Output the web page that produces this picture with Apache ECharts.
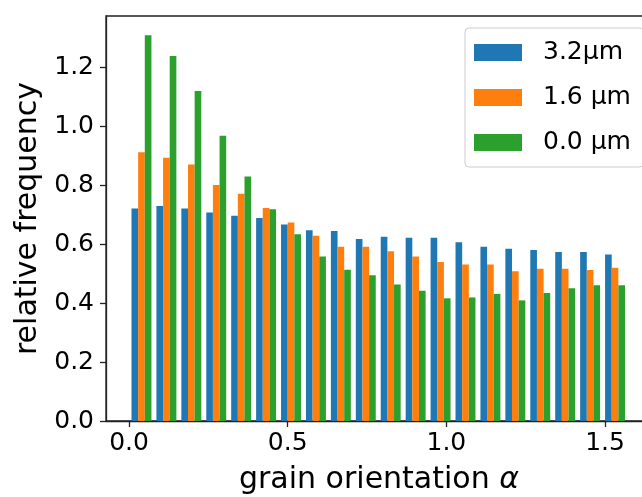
<!DOCTYPE html>
<html>
<head>
<meta charset="utf-8">
<script src="https://cdn.jsdelivr.net/npm/echarts@6/dist/echarts.min.js"></script>
<style>
html,body{margin:0;padding:0;background:#fff;}
#chart{width:642px;height:497px;}
</style>
</head>
<body>
<div id="chart"></div>
<script>
// ---- data ----
const seriesNames = ['3.2μm', '1.6 μm', '0.0 μm'];
const seriesColors = ['#1f77b4', '#ff7f0e', '#2ca02c'];
const binCount = 20;
const binMax = Math.PI / 2;
const values32 = [0.721, 0.729, 0.721, 0.707, 0.696, 0.688, 0.666, 0.647, 0.644, 0.617,
                  0.625, 0.621, 0.621, 0.606, 0.591, 0.584, 0.580, 0.573, 0.573, 0.565];
const values16 = [0.911, 0.893, 0.870, 0.800, 0.771, 0.722, 0.673, 0.628, 0.591, 0.591,
                  0.576, 0.558, 0.539, 0.531, 0.531, 0.508, 0.516, 0.516, 0.512, 0.520];
const values00 = [1.308, 1.238, 1.119, 0.967, 0.829, 0.718, 0.633, 0.558, 0.513, 0.494,
                  0.463, 0.442, 0.416, 0.419, 0.431, 0.409, 0.434, 0.450, 0.460, 0.460];
const xTicks = [0, 0.5, 1.0, 1.5];
const yTicks = [0, 0.2, 0.4, 0.6, 0.8, 1.0, 1.2];

const allValues = [values32, values16, values00];
const binWidth = binMax / binCount;
const nSeries = allValues.length;

const chart = echarts.init(document.getElementById('chart'), null, {renderer: 'canvas'});

function makeSeries(k) {
  const data = allValues[k].map((v, i) => [i * binWidth, (i + 1) * binWidth, v]);
  return {
    type: 'custom',
    name: seriesNames[k],
    data: data,
    encode: {x: [0, 1], y: 2},
    itemStyle: {color: seriesColors[k]},
    clip: false,
    renderItem: function (params, api) {
      const b0 = api.value(0), b1 = api.value(1), v = api.value(2);
      const dx = b1 - b0;
      const total = dx * 0.8;
      const w = total / nSeries;
      const x0 = b0 + dx * 0.1 + w * k;
      const x1 = x0 + w;
      const p0 = api.coord([x0, v]);
      const p1 = api.coord([x1, 0]);
      return {
        type: 'rect',
        shape: {x: p0[0], y: p0[1], width: p1[0] - p0[0], height: p1[1] - p0[1]},
        style: {fill: seriesColors[k]}
      };
    }
  };
}

const tickFont = 'DejaVu Sans';

chart.setOption({
  animation: false,
  backgroundColor: '#fff',
  grid: {
    left: 106, top: 16, width: 546, height: 405,
    outerBoundsMode: 'none',
    containLabel: false,
    show: true, borderColor: '#222', borderWidth: 1.3, backgroundColor: 'transparent'
  },
  legend: {
    orient: 'vertical',
    left: 465, top: 28,
    padding: [12, 13, 12, 9],
    itemWidth: 48, itemHeight: 17, itemGap: 20,
    borderColor: '#ccc', borderWidth: 1, borderRadius: 4,
    backgroundColor: 'rgba(255,255,255,0.8)',
    icon: 'rect',
    textStyle: {fontFamily: tickFont, fontSize: 25, color: '#000', padding: [0, 0, 0, 16]},
    data: seriesNames.map((n, k) => ({name: n, itemStyle: {color: seriesColors[k]}}))
  },
  xAxis: {
    type: 'value',
    min: -0.0725, max: 1.648,
    name: '{a|grain orientation }{b|α}',
    nameLocation: 'middle',
    nameGap: 44,
    nameTextStyle: {
      rich: {
        a: {fontFamily: tickFont, fontSize: 30, color: '#000'},
        b: {fontFamily: tickFont, fontSize: 30, fontStyle: 'italic', color: '#000'}
      }
    },
    axisLine: {show: true, onZero: false, lineStyle: {color: '#222', width: 1.3}},
    axisTick: {show: true, inside: false, length: 6, lineStyle: {color: '#222', width: 1.3}, customValues: xTicks},
    axisLabel: {
      customValues: xTicks, margin: 10,
      fontFamily: tickFont, fontSize: 25, color: '#000',
      formatter: v => v.toFixed(1)
    },
    splitLine: {show: false}
  },
  yAxis: {
    type: 'value',
    min: 0, max: 1.3734,
    name: 'relative frequency',
    nameLocation: 'middle',
    nameGap: 52,
    nameRotate: 90,
    nameTextStyle: {fontFamily: tickFont, fontSize: 30, color: '#000'},
    axisLine: {show: true, onZero: false, lineStyle: {color: '#222', width: 1.3}},
    axisTick: {show: true, inside: false, length: 6, lineStyle: {color: '#222', width: 1.3}, customValues: yTicks},
    axisLabel: {
      customValues: yTicks, margin: 12,
      fontFamily: tickFont, fontSize: 25, color: '#000',
      formatter: v => v.toFixed(1)
    },
    splitLine: {show: false}
  },
  series: [0, 1, 2].map(makeSeries)
});
</script>
</body>
</html>
